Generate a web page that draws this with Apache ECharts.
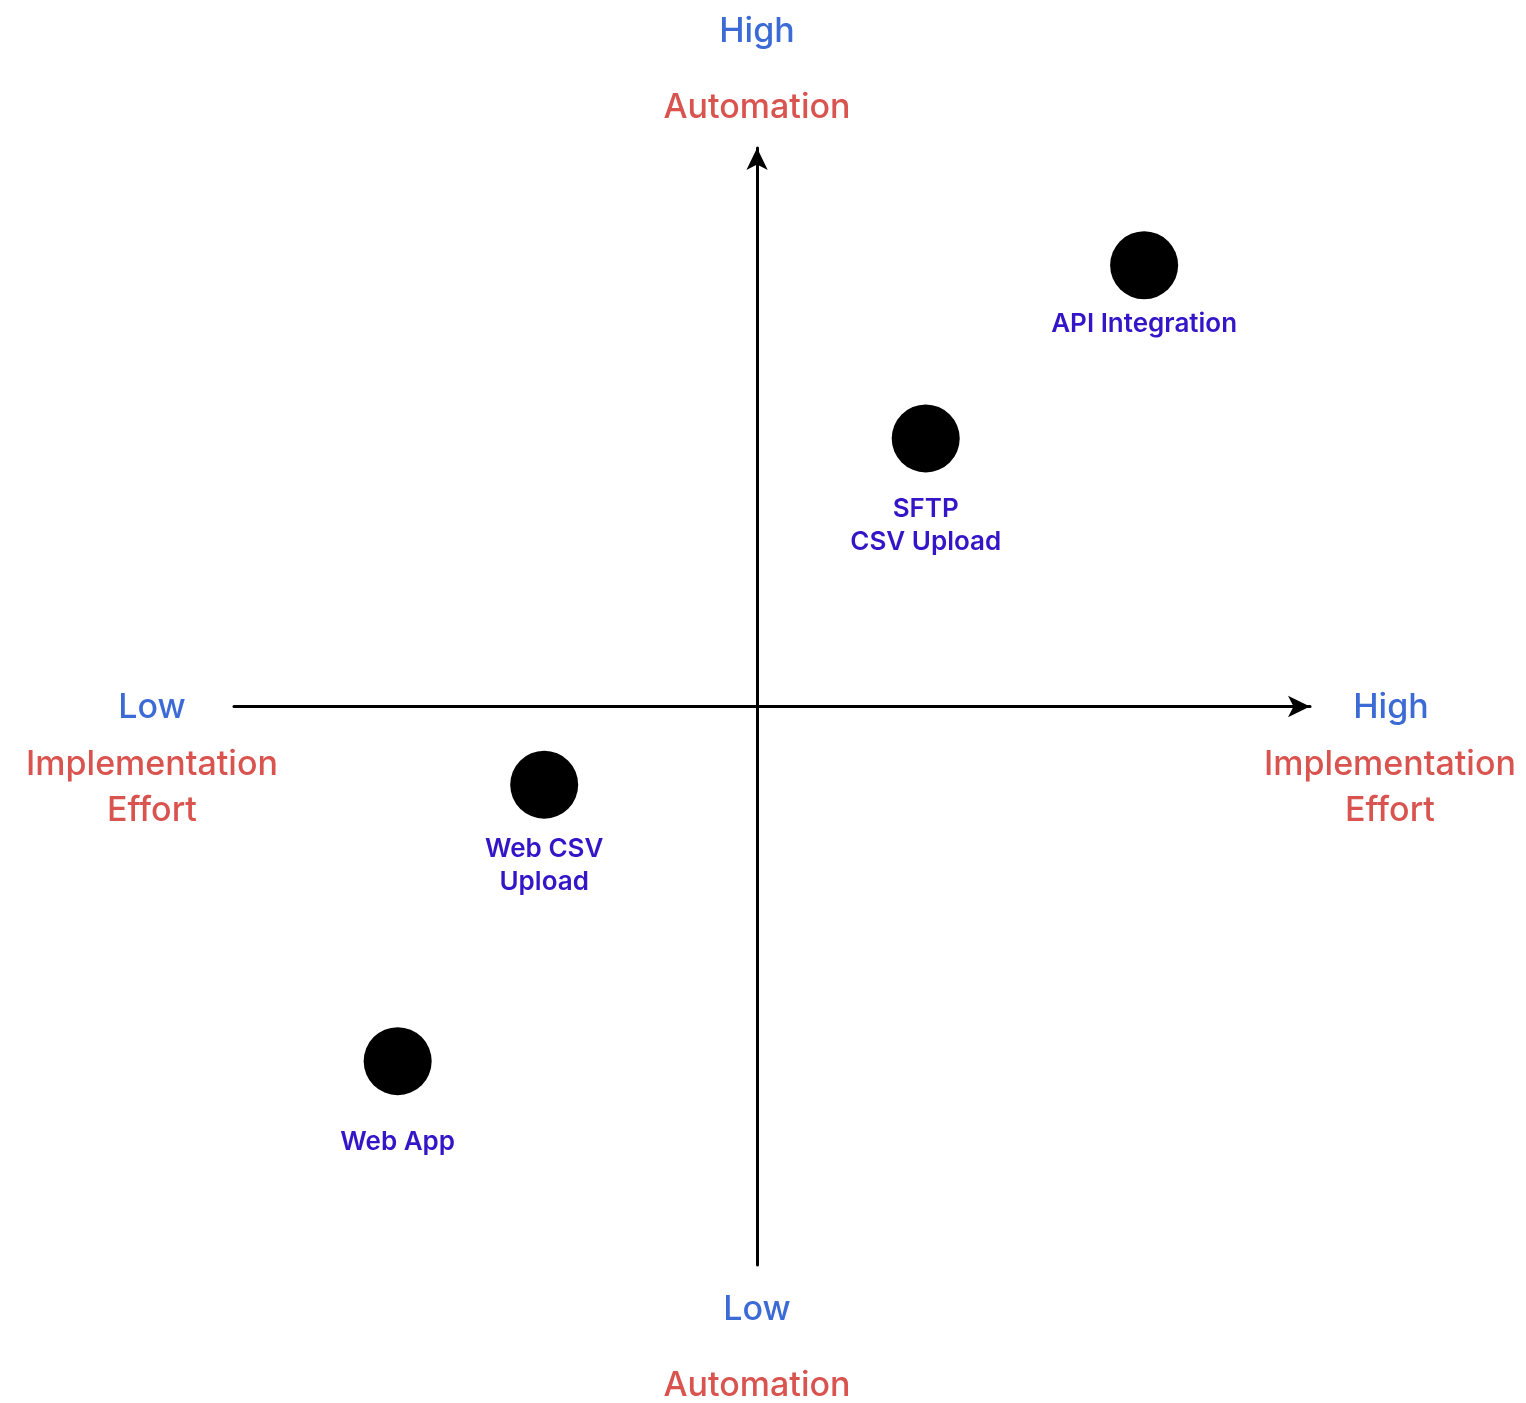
<!DOCTYPE html>
<html>
<head>
<meta charset="utf-8">
<script src="https://cdn.jsdelivr.net/npm/echarts@6/dist/echarts.min.js"></script>
<style>
  html, body { margin: 0; padding: 0; background: #fff; }
  #chart { width: 1526px; height: 1403px; }
</style>
</head>
<body>
<div id="chart"></div>
<script>
// options and their place on the effort / automation plane
var optionNames = ["API Integration", "SFTP\nCSV Upload", "Web CSV\nUpload", "Web App"];
var effortValues = [7.0, 3.05, -3.85, -6.5];
var automationValues = [7.9, 4.8, -1.4, -6.35];

var blue = "#3c6bd6";
var red = "#d9534f";
var labelColor = "#3416c8";
var font = "Inter, Roboto, sans-serif";
// gap between dot and its label (px), as in the picture
var labelGap = [8, 20, 14, 31];

var chart = echarts.init(document.getElementById("chart"));

function txt(x, y, s, color) {
    return {
        type: "text",
        x: x,
        y: y,
        style: {
            text: s,
            fill: color,
            font: "500 34px " + font,
            textAlign: "center",
            textVerticalAlign: "middle"
        }
    };
}

chart.setOption({
    animation: false,
    grid: { left: 234, right: 216, top: 148, bottom: 138 },
    xAxis: {
        type: "value",
        min: -9.46,
        max: 10,
        axisLine: {
            onZero: true,
            symbol: ["none", "arrow"],
            symbolSize: [16, 22],
            lineStyle: { color: "#000", width: 3 }
        },
        axisTick: { show: false },
        axisLabel: { show: false },
        splitLine: { show: false }
    },
    yAxis: {
        type: "value",
        min: -10,
        max: 10,
        axisLine: {
            onZero: true,
            symbol: ["none", "arrow"],
            symbolSize: [16, 22],
            lineStyle: { color: "#000", width: 3 }
        },
        axisTick: { show: false },
        axisLabel: { show: false },
        splitLine: { show: false }
    },
    series: [{
        type: "scatter",
        symbolSize: 68,
        itemStyle: { color: "#000", opacity: 1 },
        data: optionNames.map(function (n, i) {
            return {
                name: n,
                value: [effortValues[i], automationValues[i]],
                label: { distance: labelGap[i] }
            };
        }),
        label: {
            show: true,
            position: "bottom",
            formatter: "{b}",
            color: labelColor,
            fontFamily: font,
            fontWeight: 600,
            fontSize: 26,
            lineHeight: 33,
            align: "center"
        }
    }],
    graphic: [
        txt(757, 32, "High", blue),
        txt(757, 108, "Automation", red),
        txt(757, 1310, "Low", blue),
        txt(757, 1386, "Automation", red),
        txt(152, 708, "Low", blue),
        txt(152, 765, "Implementation", red),
        txt(152, 811, "Effort", red),
        txt(1391, 708, "High", blue),
        txt(1390, 765, "Implementation", red),
        txt(1390, 811, "Effort", red)
    ]
});
</script>
</body>
</html>
